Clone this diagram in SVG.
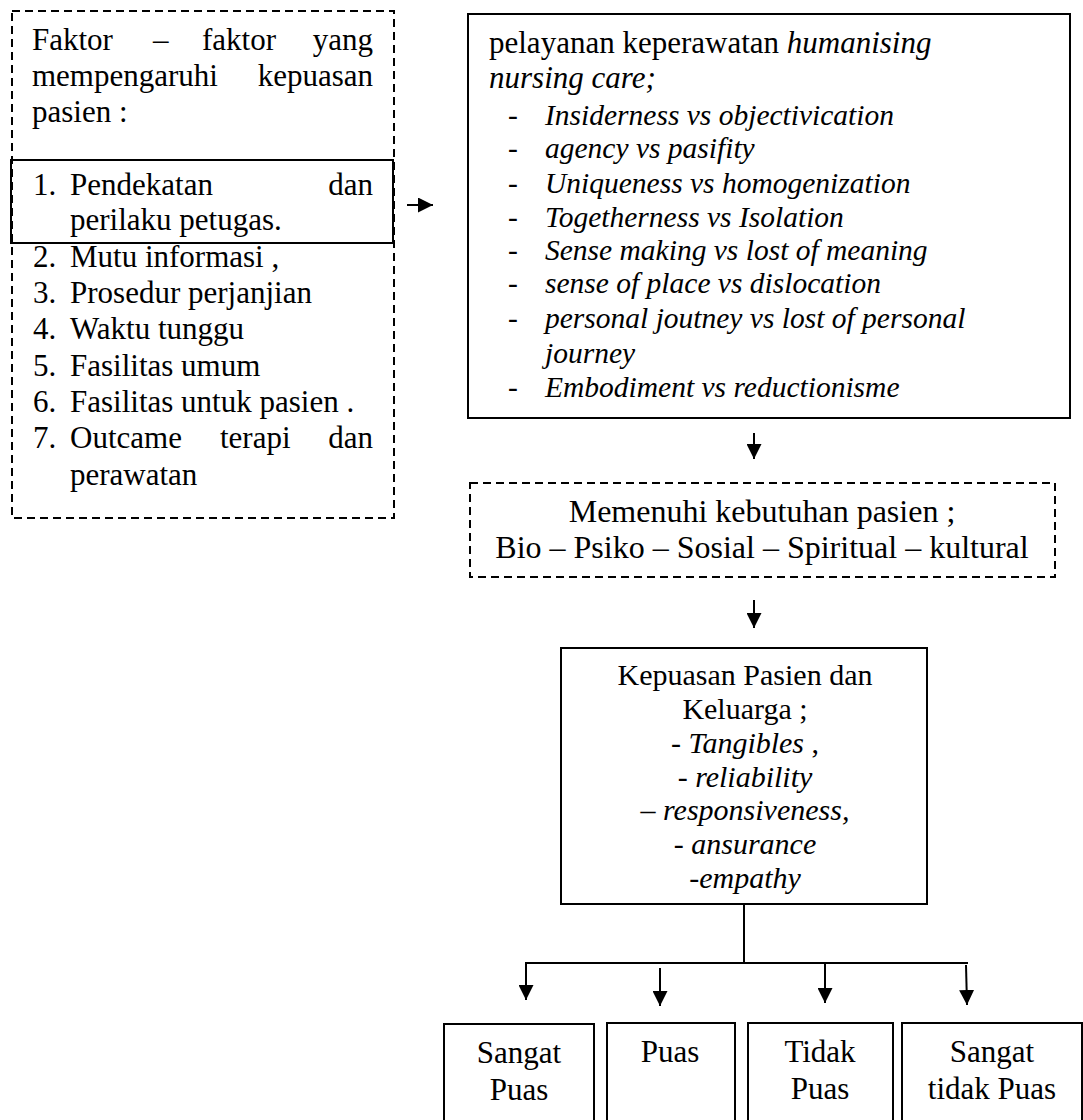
<svg xmlns="http://www.w3.org/2000/svg" width="1083" height="1120" viewBox="0 0 1083 1120">
<style>
.t{font-family:"Liberation Serif","Times New Roman",serif;font-size:31px;fill:#000}
.k{font-size:30px}
.m{font-size:32px}
.s{font-size:29.5px}
.i{font-style:italic}
.c{text-anchor:middle}
.e{text-anchor:end}
.box{fill:none;stroke:#000;stroke-width:2}
.dash{stroke-dasharray:8 5}
.conn{stroke:#000;stroke-width:2;fill:none}
</style>
<defs>
<marker id="ah" markerUnits="userSpaceOnUse" markerWidth="15" markerHeight="15" viewBox="0 0 15 15" refX="15" refY="7.5" orient="auto">
<path d="M0,0 L15,7.5 L0,15 z" fill="#000"/>
</marker>
</defs>
<rect width="1083" height="1120" fill="#fff"/>

<g id="faktor">
<rect class="box dash" x="12" y="11" width="382" height="507"/>
<text class="t" x="32" y="50">Faktor</text>
<text class="t" x="153" y="50">–</text>
<text class="t" x="202" y="50">faktor</text>
<text class="t e" x="373" y="50">yang</text>
<text class="t" x="32" y="86">mempengaruhi</text>
<text class="t e" x="373" y="86">kepuasan</text>
<text class="t" x="32" y="122">pasien :</text>
<text class="t" x="33" y="267">2.</text><text class="t" x="70" y="267">Mutu informasi ,</text>
<text class="t" x="33" y="303">3.</text><text class="t" x="70" y="303">Prosedur perjanjian</text>
<text class="t" x="33" y="339">4.</text><text class="t" x="70" y="339">Waktu tunggu</text>
<text class="t" x="33" y="376">5.</text><text class="t" x="70" y="376">Fasilitas umum</text>
<text class="t" x="33" y="412">6.</text><text class="t" x="70" y="412">Fasilitas untuk pasien .</text>
<text class="t" x="33" y="448">7.</text><text class="t" x="70" y="448">Outcame</text>
<text class="t" x="220" y="448">terapi</text>
<text class="t e" x="373" y="448">dan</text>
<text class="t" x="70" y="485">perawatan</text>
</g>

<g id="pendekatan">
<rect class="box" x="11" y="160" width="382" height="83"/>
<text class="t" x="33" y="195">1.</text><text class="t" x="70" y="195">Pendekatan</text>
<text class="t e" x="373" y="195">dan</text>
<text class="t" x="70" y="230">perilaku petugas.</text>
</g>

<g id="pelayanan">
<rect class="box" x="468" y="14" width="602" height="404"/>
<text class="t" x="489" y="53">pelayanan keperawatan <tspan class="i">humanising</tspan></text>
<text class="t i" x="489" y="88">nursing care;</text>
<g class="t s">
<text x="508" y="125">-</text><text class="i" x="545" y="125">Insiderness vs objectivication</text>
<text x="508" y="158">-</text><text class="i" x="545" y="158">agency vs pasifity</text>
<text x="508" y="193">-</text><text class="i" x="545" y="193">Uniqueness vs homogenization</text>
<text x="508" y="227">-</text><text class="i" x="545" y="227">Togetherness vs Isolation</text>
<text x="508" y="260">-</text><text class="i" x="545" y="260">Sense making vs lost of meaning</text>
<text x="508" y="293">-</text><text class="i" x="545" y="293">sense of place vs dislocation</text>
<text x="508" y="328">-</text><text class="i" x="545" y="328">personal joutney vs lost of personal</text>
<text class="i" x="545" y="363">journey</text>
<text x="508" y="397">-</text><text class="i" x="545" y="397">Embodiment vs reductionisme</text>
</g>
</g>

<g id="memenuhi">
<rect class="box dash" x="470" y="483" width="585" height="94"/>
<text class="t m c" x="762" y="522">Memenuhi kebutuhan pasien ;</text>
<text class="t m c" x="762" y="558">Bio – Psiko – Sosial – Spiritual – kultural</text>
</g>

<g id="kepuasan">
<rect class="box" x="561" y="648" width="366" height="256"/>
<text class="t k c" x="745" y="685">Kepuasan Pasien dan</text>
<text class="t k c" x="745" y="719">Keluarga ;</text>
<text class="t k c" x="745" y="753">- <tspan class="i">Tangibles</tspan> ,</text>
<text class="t k c" x="745" y="787">- <tspan class="i">reliability</tspan></text>
<text class="t k c" x="745" y="820">– <tspan class="i">responsiveness,</tspan></text>
<text class="t k c" x="745" y="854">- <tspan class="i">ansurance</tspan></text>
<text class="t k c" x="745" y="888">-<tspan class="i">empathy</tspan></text>
</g>

<g id="sangat-puas">
<rect class="box" x="444" y="1024" width="150" height="110"/>
<text class="t c" x="519" y="1063">Sangat</text>
<text class="t c" x="519" y="1100">Puas</text>
</g>
<g id="puas">
<rect class="box" x="607" y="1023" width="128" height="110"/>
<text class="t c" x="670" y="1062">Puas</text>
</g>
<g id="tidak-puas">
<rect class="box" x="748" y="1023" width="145" height="110"/>
<text class="t c" x="820" y="1062">Tidak</text>
<text class="t c" x="820" y="1099">Puas</text>
</g>
<g id="sangat-tidak-puas">
<rect class="box" x="902" y="1023" width="180" height="110"/>
<text class="t c" x="992" y="1062">Sangat</text>
<text class="t c" x="992" y="1099">tidak Puas</text>
</g>

<g id="connectors">
<line class="conn" x1="407" y1="205" x2="433" y2="205" marker-end="url(#ah)"/>
<line class="conn" x1="754" y1="433" x2="754" y2="459" marker-end="url(#ah)"/>
<line class="conn" x1="754" y1="600" x2="754" y2="628" marker-end="url(#ah)"/>
<line class="conn" x1="744" y1="904" x2="744" y2="962"/>
<polyline class="conn" points="526,1000 526,963 968,963"/>
<line class="conn" x1="526" y1="963" x2="526" y2="1000" marker-end="url(#ah)"/>
<line class="conn" x1="660" y1="968" x2="660" y2="1006" marker-end="url(#ah)"/>
<line class="conn" x1="825" y1="963" x2="825" y2="1003" marker-end="url(#ah)"/>
<line class="conn" x1="966" y1="965" x2="967" y2="1005" marker-end="url(#ah)"/>
</g>
</svg>
